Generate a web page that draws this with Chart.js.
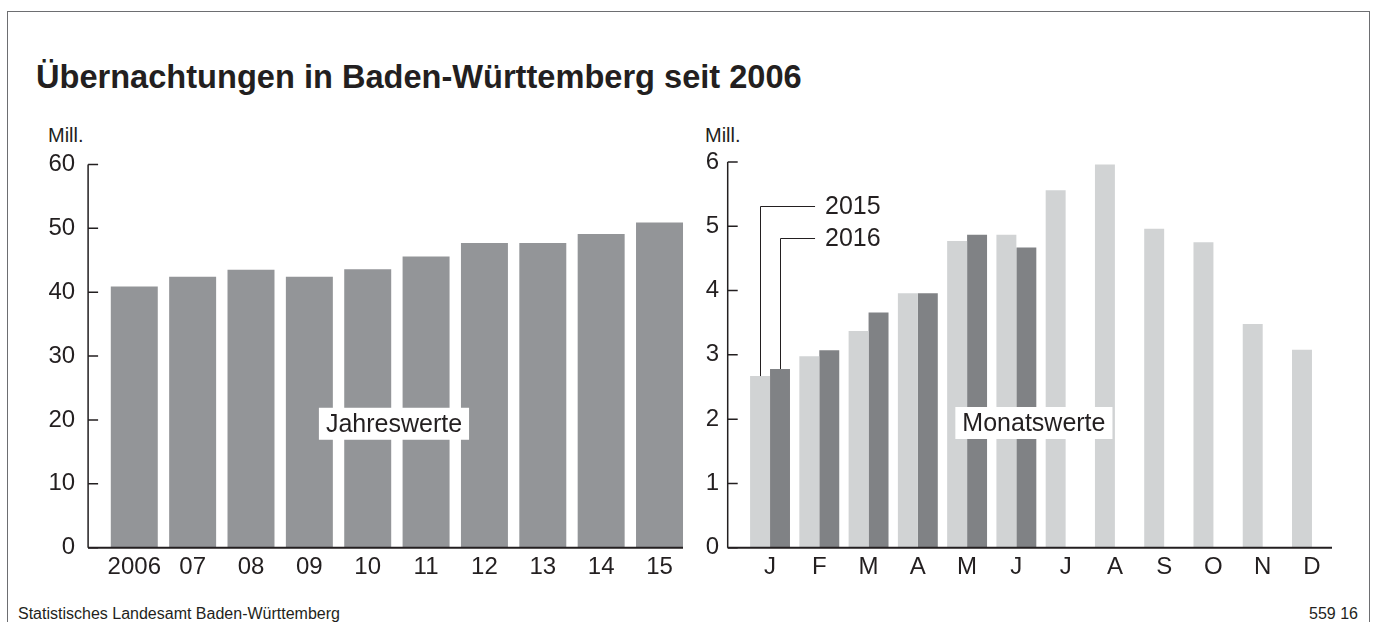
<!DOCTYPE html>
<html lang="de">
<head>
<meta charset="utf-8">
<title>Übernachtungen in Baden-Württemberg seit 2006</title>
<script src="https://cdn.jsdelivr.net/npm/chart.js@4.4.1/dist/chart.umd.min.js"></script>
<style>
  body { margin: 0; width: 1376px; height: 622px; overflow: hidden; background: #fff; position: relative;
         font-family: 'Liberation Sans', Arial, sans-serif; color: #231f20; }
  .frame { position: absolute; left: 7px; top: 11px; width: 1361px; height: 700px; border: 1px solid #6d6e71; }
  .title { position: absolute; left: 36px; top: 60px; font-size: 32.6px; line-height: 33px; font-weight: bold; white-space: nowrap; }
  .unit { position: absolute; top: 125px; font-size: 20px; line-height: 20px; }
  .foot { position: absolute; top: 605px; font-size: 16px; line-height: 17px; white-space: nowrap; }
  canvas { position: absolute; top: 120px; }
</style>
</head>
<body>
<div class="frame"></div>
<div class="title">Übernachtungen in Baden-Württemberg seit 2006</div>
<div class="unit" style="left:48px">Mill.</div>
<div class="unit" style="left:705px">Mill.</div>
<canvas id="yearChart" width="700" height="480" style="left:0"></canvas>
<canvas id="monthChart" width="686" height="480" style="left:690px"></canvas>
<div class="foot" style="left:18px">Statistisches Landesamt Baden-Württemberg</div>
<div class="foot" style="right:18px">559 16</div>
<script>
// Jahreswerte (Mill. Übernachtungen)
const years = ['2006', '07', '08', '09', '10', '11', '12', '13', '14', '15'];
const yearly = [40.9, 42.4, 43.5, 42.4, 43.6, 45.6, 47.7, 47.7, 49.1, 50.9];

// Monatswerte
const months = ['J', 'F', 'M', 'A', 'M', 'J', 'J', 'A', 'S', 'O', 'N', 'D'];
const m2015 = [2.67, 2.98, 3.37, 3.96, 4.77, 4.87, 5.56, 5.96, 4.96, 4.75, 3.48, 3.08];
const m2016 = [2.78, 3.07, 3.66, 3.96, 4.87, 4.67, null, null, null, null, null, null];

const ink = '#231f20';
const fontFamily = "'Liberation Sans', Arial, sans-serif";
Chart.defaults.font.family = fontFamily;
Chart.defaults.color = ink;

// axis lines, tick marks and the white caption box
const axesPlugin = {
    id: 'axes',
    afterDatasetsDraw(chart, args, opts) {
        const { ctx, chartArea: a } = chart;
        const y = chart.scales.y;
        const x0 = a.left - opts.gap;
        ctx.save();
        ctx.strokeStyle = ink;
        ctx.lineWidth = 1.5;
        ctx.beginPath();
        ctx.moveTo(x0, a.top);
        ctx.lineTo(x0, a.bottom);
        y.ticks.forEach(t => {
            const py = y.getPixelForValue(t.value);
            ctx.moveTo(x0, py);
            ctx.lineTo(x0 + 10, py);
        });
        ctx.stroke();
        ctx.lineWidth = 2;
        ctx.beginPath();
        ctx.moveTo(x0, a.bottom);
        ctx.lineTo(a.right - opts.endGap, a.bottom);
        ctx.stroke();

        const cx = a.left + a.width * opts.captionX;
        const cy = y.getPixelForValue(opts.captionY);
        ctx.font = '25px ' + fontFamily;
        const w = ctx.measureText(opts.caption).width + 14;
        ctx.fillStyle = '#fff';
        ctx.fillRect(cx - w / 2, cy - 16, w, 32);
        ctx.fillStyle = ink;
        ctx.textAlign = 'center';
        ctx.textBaseline = 'middle';
        ctx.fillText(opts.caption, cx, cy + 1);
        ctx.restore();
    }
};

// leader lines from the January bars to the year labels
const leaderPlugin = {
    id: 'leaders',
    afterDatasetsDraw(chart, args, opts) {
        const { ctx } = chart;
        const y = chart.scales.y;
        const end = chart.getDatasetMeta(0).data[0].x + opts.reach;
        ctx.save();
        ctx.strokeStyle = ink;
        ctx.lineWidth = 1;
        ctx.fillStyle = ink;
        ctx.font = '25px ' + fontFamily;
        ctx.textAlign = 'left';
        ctx.textBaseline = 'middle';
        chart.data.datasets.forEach((ds, i) => {
            const bar = chart.getDatasetMeta(i).data[0];
            const bx = Math.round(bar.x) + 0.5;
            const ly = Math.round(y.getPixelForValue(opts.levels[i])) + 0.5;
            ctx.beginPath();
            ctx.moveTo(bx, bar.y);
            ctx.lineTo(bx, ly);
            ctx.lineTo(end, ly);
            ctx.stroke();
            ctx.fillText(ds.label, end + 10, ly + 1);
        });
        ctx.restore();
    }
};

function scalesFor(max, step, yWidth, yPad) {
    return {
        x: {
            offset: true,
            grid: { display: false, drawTicks: false },
            border: { display: false },
            ticks: { font: { size: 24 }, padding: 5, autoSkip: false, maxRotation: 0, color: ink },
            afterFit: s => { s.height = 52.3; }
        },
        y: {
            min: 0, max: max,
            grid: { display: false, drawTicks: false },
            border: { display: false },
            ticks: { stepSize: step, font: { size: 24 }, padding: yPad, color: ink },
            afterFit: s => { s.width = yWidth; }
        }
    };
}

new Chart(document.getElementById('yearChart'), {
    type: 'bar',
    data: {
        labels: years,
        datasets: [{
            label: 'Jahreswerte',
            data: yearly,
            backgroundColor: '#939598',
            categoryPercentage: 0.805,
            barPercentage: 1
        }]
    },
    options: {
        responsive: false,
        devicePixelRatio: 1,
        animation: false,
        layout: { padding: { top: 42, right: 11.3, bottom: 0, left: 0 } },
        scales: scalesFor(60, 10, 105.1, 30),
        plugins: {
            legend: { display: false },
            tooltip: { enabled: false },
            axes: { gap: 17, endGap: 5.7, caption: 'Jahreswerte', captionX: 0.495, captionY: 19.4 }
        }
    },
    plugins: [axesPlugin]
});

new Chart(document.getElementById('monthChart'), {
    type: 'bar',
    data: {
        labels: months,
        datasets: [
            { label: '2015', data: m2015, backgroundColor: '#d1d3d4', categoryPercentage: 0.81, barPercentage: 1 },
            { label: '2016', data: m2016, backgroundColor: '#808285', categoryPercentage: 0.81, barPercentage: 1 }
        ]
    },
    options: {
        responsive: false,
        devicePixelRatio: 1,
        animation: false,
        layout: { padding: { top: 42, right: 39.4, bottom: 0, left: 0 } },
        scales: scalesFor(6, 1, 55.4, 26.4),
        plugins: {
            legend: { display: false },
            tooltip: { enabled: false },
            axes: { gap: 17.7, endGap: 4.6, caption: 'Monatswerte', captionX: 0.488, captionY: 1.94 },
            leaders: { levels: [5.31, 4.82], reach: 55 }
        }
    },
    plugins: [axesPlugin, leaderPlugin]
});
</script>
</body>
</html>
